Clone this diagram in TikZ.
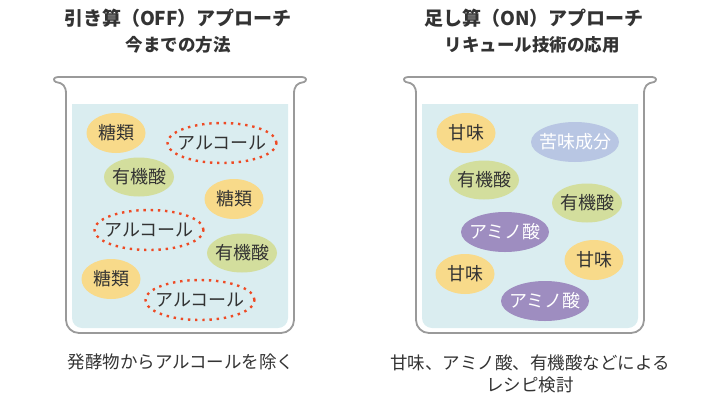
\documentclass[tikz,border=0pt]{standalone}
\usepackage{fontspec}
\setmainfont{Noto Sans CJK JP}
\usetikzlibrary{shapes.geometric,positioning}
\definecolor{beakergray}{HTML}{9A9A9A}
\definecolor{waterblue}{HTML}{DAEDF0}
\definecolor{sugaryellow}{HTML}{F8DA8A}
\definecolor{acidgreen}{HTML}{D3DE9D}
\definecolor{bitterblue}{HTML}{B8C6E3}
\definecolor{aminopurple}{HTML}{9E8DC0}
\definecolor{alcred}{HTML}{EE4A24}
\definecolor{textgray}{HTML}{333333}
\tikzset{
    part/.style={
        ellipse,
        inner xsep=-20pt,
        inner ysep=0pt,
        text=textgray,
        font=\fontsize{18}{21}\selectfont,
    },
    sugar/.style={
        part,
        fill=sugaryellow,
        minimum width=59pt,
        minimum height=40pt,
    },
    acid/.style={
        part,
        fill=acidgreen,
        minimum width=70pt,
        minimum height=39pt,
    },
    bitter/.style={
        part,
        fill=bitterblue,
        text=white,
        minimum width=88pt,
        minimum height=40pt,
    },
    amino/.style={
        part,
        fill=aminopurple,
        text=white,
        minimum width=88pt,
        minimum height=40pt,
    },
    alcohol/.style={
        part,
        draw=alcred,
        line width=2.4pt,
        dash pattern=on 2.4pt off 4.8pt,
        minimum width=109pt,
        minimum height=40pt,
    },
    beaker/.style={
        draw=beakergray,
        line width=1.8pt,
    },
    water/.style={
        fill=waterblue,
    },
    title/.style={
        text=textgray,
        font=\bfseries\fontsize{19}{23}\selectfont,
    },
    subtitle/.style={
        text=textgray,
        font=\bfseries\fontsize{17.5}{21}\selectfont,
    },
    caption/.style={
        text=textgray,
        align=center,
        font=\fontsize{17.5}{22}\selectfont,
    },
}

\begin{document}
\begin{tikzpicture}[x=1pt,y=-1pt]
    \useasboundingbox (0,0) rectangle (710,400);

    % two beakers
    \foreach \dx in {0,350} {
        \begin{scope}[xshift=\dx pt]
            \fill[water] (72,104) [rounded corners=10pt]-- (72,328) -- (288,328) [sharp corners]-- (288,104) -- cycle;
            \draw[beaker] (56,82) .. controls (63,83) and (66,86) .. (66,94)
                [rounded corners=13pt]-- (66,333) -- (294,333) [sharp corners]-- (294,94)
                .. controls (294,86) and (297,83) .. (304,82)
                .. controls (307,81) and (307,77) .. (302,77) -- (58,77)
                .. controls (53,77) and (53,81) .. (56,82) -- cycle;
        \end{scope}
    }

    % left: subtraction
    \node[title] (offTitle) at (178,18) {引き算（OFF）アプローチ};
    \node[subtitle] (offSub) at (178,45) {今までの方法};

    \node[sugar] (sugarA) at (116,133) {糖類};
    \node[alcohol] (alcA) at (222,143) {アルコール};
    \node[acid] (acidA) at (139,177) {有機酸};
    \node[sugar] (sugarB) at (234,199) {糖類};
    \node[alcohol] (alcB) at (149,230) {アルコール};
    \node[acid] (acidB) at (242,253) {有機酸};
    \node[sugar] (sugarC) at (111,279) {糖類};
    \node[alcohol] (alcC) at (200,300) {アルコール};

    \node[caption] (offCaption) at (181,362) {発酵物からアルコールを除く};

    % right: addition
    \node[title] (onTitle) at (534,18) {足し算（ON）アプローチ};
    \node[subtitle] (onSub) at (532,45) {リキュール技術の応用};

    \node[sugar] (sweetA) at (466,133) {甘味};
    \node[bitter] (bitterA) at (575,142) {苦味成分};
    \node[acid] (acidC) at (484,180) {有機酸};
    \node[acid] (acidD) at (587,203) {有機酸};
    \node[amino] (aminoA) at (505,232) {アミノ酸};
    \node[sugar] (sweetB) at (594,260) {甘味};
    \node[sugar] (sweetC) at (465,274) {甘味};
    \node[amino] (aminoB) at (545,301) {アミノ酸};

    \node[caption] (onCaption) at (530,374) {甘味、アミノ酸、有機酸などによる\\レシピ検討};
\end{tikzpicture}
\end{document}
